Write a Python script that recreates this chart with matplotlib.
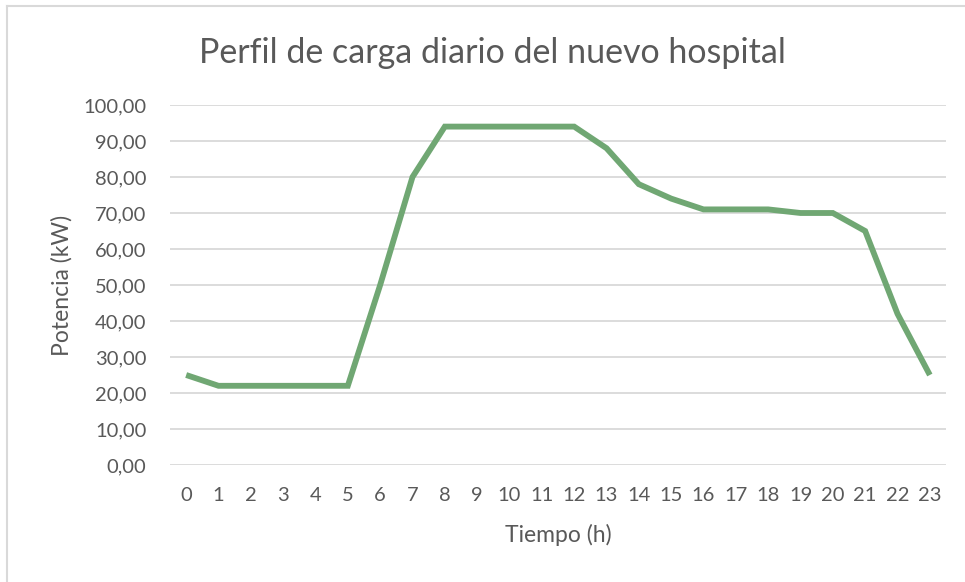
import numpy as np
import matplotlib.pyplot as plt
from matplotlib.lines import Line2D

plt.rcParams['font.family'] = ['Lato', 'DejaVu Sans']

horas = list(range(24))
potencia = [25, 22, 22, 22, 22, 22, 50, 80, 94, 94, 94, 94, 94, 88, 78, 74,
            71, 71, 71, 70, 70, 65, 42, 25]
yticks = list(range(0, 101, 10))

txt = '#595959'
grid = '#d9d9d9'

fig = plt.figure(figsize=(9.65, 5.82), dpi=100)
ax = fig.add_axes([170/965, 1-465/582, 776/965, 360/582])

ax.plot(horas, potencia, color='#70a773', lw=4.2, solid_joinstyle='miter',
        solid_capstyle='butt')

ax.set_xlim(-0.5, 23.5)
ax.set_ylim(0, 100)
ax.set_yticks(yticks)
ax.set_yticklabels([f"{v:.2f}".replace('.', ',') for v in yticks])
ax.set_xticks(horas)
ax.set_xticklabels([str(h) for h in horas])
ax.tick_params(length=0, labelsize=14.5, colors=txt)
ax.tick_params(axis='y', pad=17)
ax.tick_params(axis='x', pad=16)
ax.grid(axis='y', color=grid, lw=1.3)
ax.set_axisbelow(True)
for s in ax.spines.values():
    s.set_visible(False)

ax.set_ylabel('Potencia (kW)', fontsize=16.5, color=txt, labelpad=8)
ax.set_xlabel('Tiempo (h)', fontsize=16.5, color=txt, labelpad=14)
fig.text(492/965, 1-53/582, 'Perfil de carga diario del nuevo hospital',
         ha='center', va='center', fontsize=24.5, color=txt)

# chart area border (left and top)
fig.add_artist(Line2D([7/965, 7/965], [0, 1-6/582], transform=fig.transFigure, color=grid, lw=1.5))
fig.add_artist(Line2D([7/965, 1], [1-6/582, 1-6/582], transform=fig.transFigure, color=grid, lw=1.5))

fig.savefig('out.png', dpi=100)
